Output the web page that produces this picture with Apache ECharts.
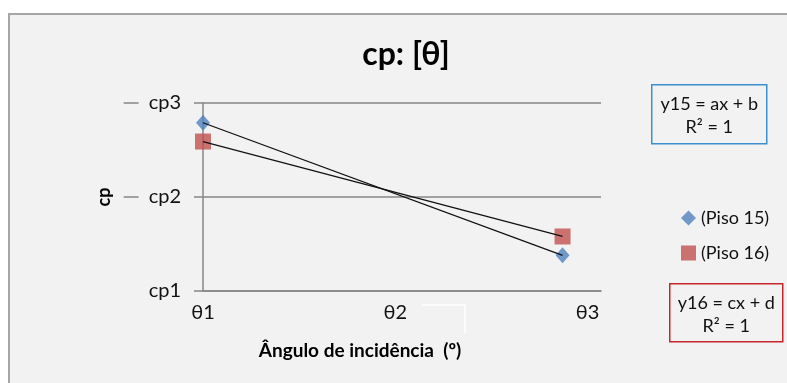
<!DOCTYPE html>
<html>
<head>
<meta charset="utf-8">
<script src="https://cdn.jsdelivr.net/npm/echarts@6/dist/echarts.min.js"></script>
<style>
  html, body { margin: 0; padding: 0; background: #ffffff; }
  #chart { width: 787px; height: 383px; }
</style>
</head>
<body>
<div id="chart"></div>
<script>
// Angle of incidence positions (theta axis) and tick names
const xTicks = ['θ1', 'θ2', 'θ3'];
const yTicks = ['cp1', 'cp2', 'cp3'];
const xValues = [0, 1.87];
// Pressure coefficient per floor
const piso15 = [2.79, 1.38];
const piso16 = [2.59, 1.58];

const FONT = 'Lato, "Open Sans", sans-serif';
const GRID = '#868686';

const pairs = (ys) => xValues.map((x, i) => [x, ys[i]]);

const chart = echarts.init(document.getElementById('chart'));

function eqBox(x, y, w, h, color, line1) {
  return {
    type: 'group', left: x, top: y,
    children: [
      { type: 'rect', shape: { x: 0, y: 0, width: w, height: h },
        style: { fill: '#f2f2f2', stroke: color, lineWidth: 1.5 } },
      { type: 'text', x: w / 2, y: 8,
        style: { text: line1 + '\nR² = 1', fill: '#111', font: '18px ' + FONT,
                 align: 'center', lineHeight: 23 } }
    ]
  };
}

chart.setOption({
  backgroundColor: '#ffffff',
  animation: false,
  graphic: [
    { type: 'rect', z: -10, shape: { x: 9, y: 14, width: 800, height: 400 },
      style: { fill: '#f2f2f2', stroke: '#a6a6a6', lineWidth: 2 } },
    { type: 'polyline', z: 5, shape: { points: [[422, 305], [465, 305], [465, 333]] },
      style: { stroke: '#ffffff', lineWidth: 1.5, fill: null } },
    eqBox(651, 84, 115, 59, '#3c8fd0', 'y15 = ax + b'),
    eqBox(669, 283, 113, 58, '#c8262b', 'y16 = cx + d')
  ],
  title: {
    text: 'cp: [θ]',
    left: 401, top: 34, textAlign: 'center',
    textStyle: { fontFamily: FONT, fontWeight: 'bold', fontSize: 32, color: '#000' }
  },
  legend: {
    orient: 'vertical', left: 676, top: 204, itemGap: 17,
    itemWidth: 15, itemHeight: 15,
    textStyle: { fontFamily: FONT, fontSize: 18, color: '#111' },
    data: [
      { name: '(Piso 15)', icon: 'diamond' },
      { name: '(Piso 16)', icon: 'rect' }
    ]
  },
  grid: { left: 203, top: 103, right: 186, bottom: 92 },
  xAxis: {
    type: 'value', min: 0, max: 2.07, interval: 1,
    axisLine: { show: true, lineStyle: { color: GRID, width: 1.5 } },
    axisTick: { show: false },
    splitLine: { show: false },
    axisLabel: {
      margin: 12, fontFamily: FONT, fontSize: 20, color: '#111',
      formatter: (v) => xTicks[Math.round(v)] || ''
    },
    name: 'Ângulo de incidência  (º)',
    nameLocation: 'middle', nameGap: 50,
    nameTextStyle: { fontFamily: FONT, fontWeight: 'bold', fontSize: 19, color: '#000',
                     padding: [0, 84, 0, 0] }
  },
  yAxis: {
    type: 'value', min: 1, max: 3, interval: 1,
    axisLine: { show: true, lineStyle: { color: GRID, width: 1.5 } },
    axisTick: { show: true, length: 9, lineStyle: { color: GRID, width: 1.5 } },
    splitLine: { show: true, lineStyle: { color: GRID, width: 1.5 } },
    axisLabel: {
      margin: 22, fontFamily: FONT, fontSize: 20, color: '#111',
      formatter: (v) => {
        const t = yTicks[Math.round(v) - 1] || '';
        return v > 1 ? '{d| }{g| }' + t : t;
      },
      rich: {
        d: { width: 15, height: 1.5, backgroundColor: GRID, fontSize: 2 },
        g: { width: 10, fontSize: 2 }
      }
    },
    name: 'cp',
    nameLocation: 'middle', nameRotate: 90, nameGap: 80,
    nameTextStyle: { fontFamily: FONT, fontWeight: 'bold', fontSize: 18, color: '#000' }
  },
  series: [
    {
      name: '(Piso 15)', type: 'scatter', symbol: 'diamond', symbolSize: [14, 16],
      itemStyle: { color: '#4f81bd' }, data: pairs(piso15), z: 2
    },
    {
      name: '(Piso 16)', type: 'scatter', symbol: 'rect', symbolSize: 16,
      itemStyle: { color: '#c0504d' }, data: pairs(piso16), z: 2
    },
    {
      name: 'trend15', type: 'line', showSymbol: false, symbol: 'none', silent: true, z: 3,
      lineStyle: { color: '#111', width: 1.3 }, data: pairs(piso15)
    },
    {
      name: 'trend16', type: 'line', showSymbol: false, symbol: 'none', silent: true, z: 3,
      lineStyle: { color: '#111', width: 1.3 }, data: pairs(piso16)
    }
  ]
});
</script>
</body>
</html>
